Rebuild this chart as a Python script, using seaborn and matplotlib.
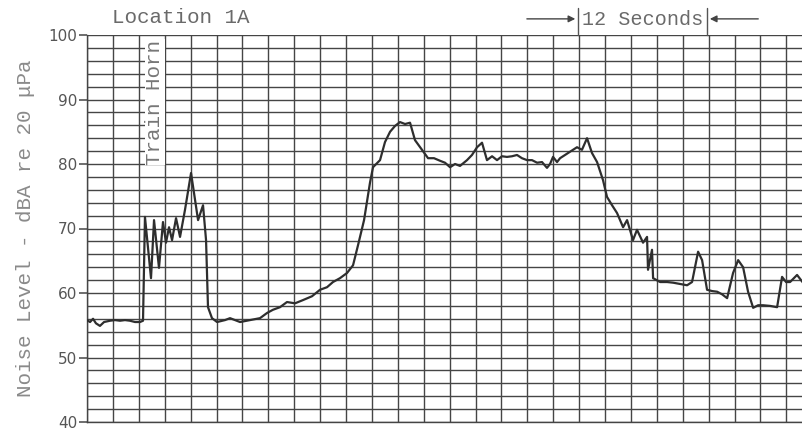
import numpy as np
import pandas as pd
import matplotlib
matplotlib.use("Agg")
import matplotlib.pyplot as plt
import seaborn as sns

# Time (seconds) and noise level (dBA)
time_s = [0.00, 0.28, 0.56, 0.83, 1.20, 1.58, 2.13, 2.59, 3.06, 3.52, 3.98, 4.45, 4.91, 5.19,
          5.37, 5.93, 6.21, 6.67, 7.04, 7.32, 7.60, 7.88, 8.25, 8.62, 9.08, 9.64, 10.29, 10.75,
          11.03, 11.21, 11.58, 12.05, 12.79, 13.25, 14.18, 15.10, 16.03, 16.68, 17.23, 17.88,
          18.53, 19.27, 20.01, 20.85, 21.59, 22.24, 22.79, 23.44, 24.09, 24.65, 25.11, 25.67,
          26.22, 26.50, 27.15, 27.61, 28.08, 28.54, 29.00, 29.47, 29.93, 30.39, 31.04, 31.60,
          32.15, 32.71, 33.17, 33.64, 34.10, 34.56, 35.21, 35.67, 36.14, 36.60, 37.06, 37.53,
          37.99, 38.45, 38.91, 39.38, 39.84, 40.30, 40.77, 41.23, 41.70, 42.16, 42.62, 42.90,
          43.18, 43.55, 43.83, 44.29, 44.75, 45.40, 45.86, 46.33, 46.79, 47.26, 47.81, 48.18,
          48.65, 49.11, 49.67, 50.04, 50.59, 50.96, 51.52, 51.89, 51.98, 52.35, 52.45, 53.10,
          53.75, 54.30, 54.95, 55.60, 56.06, 56.62, 56.99, 57.45, 57.92, 58.38, 58.84, 59.31,
          59.86, 60.33, 60.79, 61.25, 61.72, 62.18, 62.64, 63.29, 63.94, 64.40, 64.77, 65.14,
          65.79, 66.34]
level_dba = [55.8, 55.5, 56.0, 55.3, 54.9, 55.5, 55.7, 55.8, 55.7, 55.8, 55.7, 55.5, 55.5, 55.7,
             71.8, 62.3, 71.3, 63.9, 71.0, 67.8, 70.2, 68.2, 71.6, 68.7, 72.9, 78.6, 71.3, 73.6,
             68.2, 57.8, 56.1, 55.5, 55.8, 56.1, 55.5, 55.8, 56.1, 56.9, 57.4, 57.8,
             58.6, 58.4, 58.9, 59.5, 60.5, 60.9, 61.7, 62.3, 63.1, 64.3, 67.4, 71.3,
             77.1, 79.5, 80.6, 83.4, 85.0, 85.9, 86.5, 86.2, 86.4, 83.7, 82.2, 80.9,
             80.9, 80.5, 80.2, 79.5, 80.0, 79.7, 80.6, 81.4, 82.6, 83.3, 80.6, 81.2,
             80.6, 81.2, 81.1, 81.2, 81.4, 80.9, 80.6, 80.6, 80.2, 80.3, 79.4, 80.0,
             81.1, 80.3, 80.9, 81.4, 81.9, 82.6, 82.2, 84.0, 81.7, 80.3, 77.5, 74.9,
             73.6, 72.4, 70.2, 71.3, 68.2, 69.8, 67.8, 68.7, 63.6, 66.7, 62.3, 61.7,
             61.7, 61.6, 61.4, 61.2, 61.7, 66.4, 65.1, 60.5, 60.3, 60.2, 59.8, 59.2,
             63.1, 65.1, 64.0, 60.2, 57.7, 58.1, 58.1, 58.0, 57.8, 62.5, 61.7, 61.7,
             62.8, 61.6]

y_ticks = [40, 50, 60, 70, 80, 90, 100]
y_tick_labels = ["40", "50", "60", "70", "80", "90", "100"]
chart_division_s = 2.4
marker_start_s, marker_end_s = 45.5, 57.45

df = pd.DataFrame({"t": time_s, "dba": level_dba})

sns.set_style("white")
plt.rcParams["font.family"] = ["DejaVu Sans"]

fig = plt.figure(figsize=(8.03, 4.34), dpi=100)
ax = fig.add_axes([87 / 803, 12 / 434, 1 - 87 / 803, (422 - 35) / 434])

grid_color = "#454545"
x_end = time_s[-1]
for g in np.arange(0, x_end + 0.01, chart_division_s):
    ax.axvline(g, color=grid_color, lw=1.0, zorder=1)
for g in range(40, 101, 2):
    ax.axhline(g, color=grid_color, lw=1.0, zorder=1)

sns.lineplot(data=df, x="t", y="dba", ax=ax, color="#2e2e2e", lw=1.6, zorder=3)

ax.set_xlim(0, x_end)
ax.set_ylim(40, 100)
ax.set_yticks(y_ticks)
ax.set_yticklabels(y_tick_labels)
ax.set_xticks([])
ax.set_xlabel("")
ax.set_ylabel("Noise Level - dBA re 20 μPa", family="Liberation Mono", fontsize=15,
              color="#8a8a8a", labelpad=10)
ax.tick_params(axis="y", length=6, width=1.2, color="#555555", labelsize=11,
               labelcolor="#555555", pad=1, left=True)
for s in ["top", "right"]:
    ax.spines[s].set_visible(False)
for s in ["left", "bottom"]:
    ax.spines[s].set_color(grid_color)
    ax.spines[s].set_linewidth(1.0)

# Annotations
ax.text(2.3, 101.2, "Location 1A", family="Liberation Mono", fontsize=15,
        color="#6a6a6a", ha="left", va="bottom", clip_on=False)
ax.text(6.3, 99.3, "Train Horn", family="Liberation Mono", fontsize=15,
        color="#777777", rotation=90, ha="center", va="top", zorder=4,
        bbox=dict(facecolor="white", edgecolor="none", pad=0.5))

# 12 seconds marker
for m in (marker_start_s, marker_end_s):
    ax.plot([m, m], [100, 104.2], color="#555555", lw=1.0, clip_on=False)
ax.text((marker_start_s + marker_end_s) / 2, 102.4, "12 Seconds", family="Liberation Mono",
        fontsize=14.5, color="#6a6a6a", ha="center", va="center", clip_on=False)
ax.annotate("", xy=(marker_start_s, 102.5), xytext=(marker_start_s - 5.0, 102.5),
            arrowprops=dict(arrowstyle="-|>", color="#444444", lw=1.0), annotation_clip=False)
ax.annotate("", xy=(marker_end_s, 102.5), xytext=(marker_end_s + 5.0, 102.5),
            arrowprops=dict(arrowstyle="-|>", color="#444444", lw=1.0), annotation_clip=False)

fig.savefig("out.png", dpi=100)
